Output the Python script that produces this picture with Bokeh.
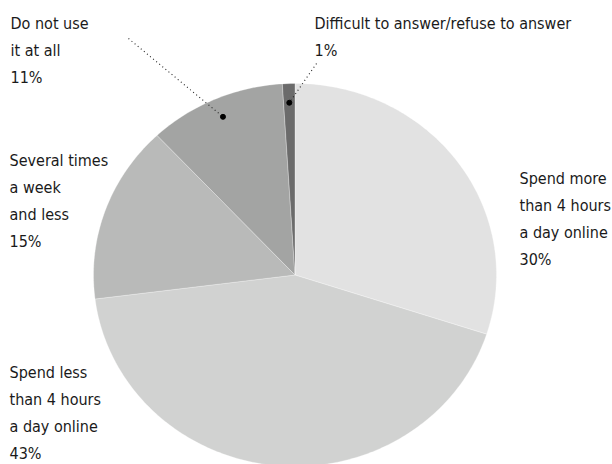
import numpy as np
from bokeh.plotting import figure
from bokeh.models import Range1d
from bokeh.core.properties import value
from bokeh.embed import file_html
from bokeh.resources import INLINE

# ---- data ----
categories = ["Spend more than 4 hours a day online",
              "Spend less than 4 hours a day online",
              "Several times a week and less",
              "Do not use it at all",
              "Difficult to answer/refuse to answer"]
shares = [30, 43, 15, 11, 1]
colors = ["#e2e2e2", "#d1d2d1", "#b9bab9", "#a3a4a3", "#6b6b6b"]
label_lines = [["Spend more", "than 4 hours", "a day online", "30%"],
               ["Spend less", "than 4 hours", "a day online", "43%"],
               ["Several times", "a week", "and less", "15%"],
               ["Do not use", "it at all", "11%"],
               ["Difficult to answer/refuse to answer", "1%"]]

# ---- layout ----
W, H = 612, 464
cx, cy, rx, ry = 294.5, 274.5, 201.5, 191.5
label_pos = [(519, 178), (9, 372), (9, 160), (10, 23), (314, 23)]
line_step = 27
leader = {3: (128, 38), 4: (316, 63)}  # outer end of dotted leader
FONT = "DejaVu Sans Condensed"
FSIZE = "16px"

p = figure(width=W, height=H, x_range=Range1d(0, W), y_range=Range1d(H, 0),
           output_backend="svg", toolbar_location=None, min_border=0)
p.axis.visible = False
p.grid.visible = False
p.outline_line_color = None
p.background_fill_color = "white"

total = float(sum(shares))
start = 0.0
mids = []
for i, v in enumerate(shares):
    end = start + v / total * 2 * np.pi
    t = np.linspace(start, end, max(4, int(v * 4)))
    xs = [cx] + list(cx + rx * np.sin(t)) + [cx]
    ys = [cy] + list(cy - ry * np.cos(t)) + [cy]
    p.patch(xs, ys, fill_color=colors[i], line_color="white", line_alpha=0.5, line_width=0.6)
    mids.append((start + end) / 2)
    start = end

for i, (ox, oy) in leader.items():
    m = mids[i]
    dx = cx + 0.9 * rx * np.sin(m)
    dy = cy - 0.9 * ry * np.cos(m)
    p.line([ox, dx], [oy, dy], line_color="#222222", line_width=1.1, line_dash="1 3")
    p.scatter([dx], [dy], size=5, color="black")

for i, lines in enumerate(label_lines):
    x0, y0 = label_pos[i]
    xs = [x0] * len(lines)
    ys = [y0 + k * line_step for k in range(len(lines))]
    p.text(xs, ys, text=lines, text_font=value(FONT), text_font_size=FSIZE,
           text_color="#1a1a1a", text_align="left", text_baseline="alphabetic")

open("out.html", "w").write(file_html(p, INLINE))
